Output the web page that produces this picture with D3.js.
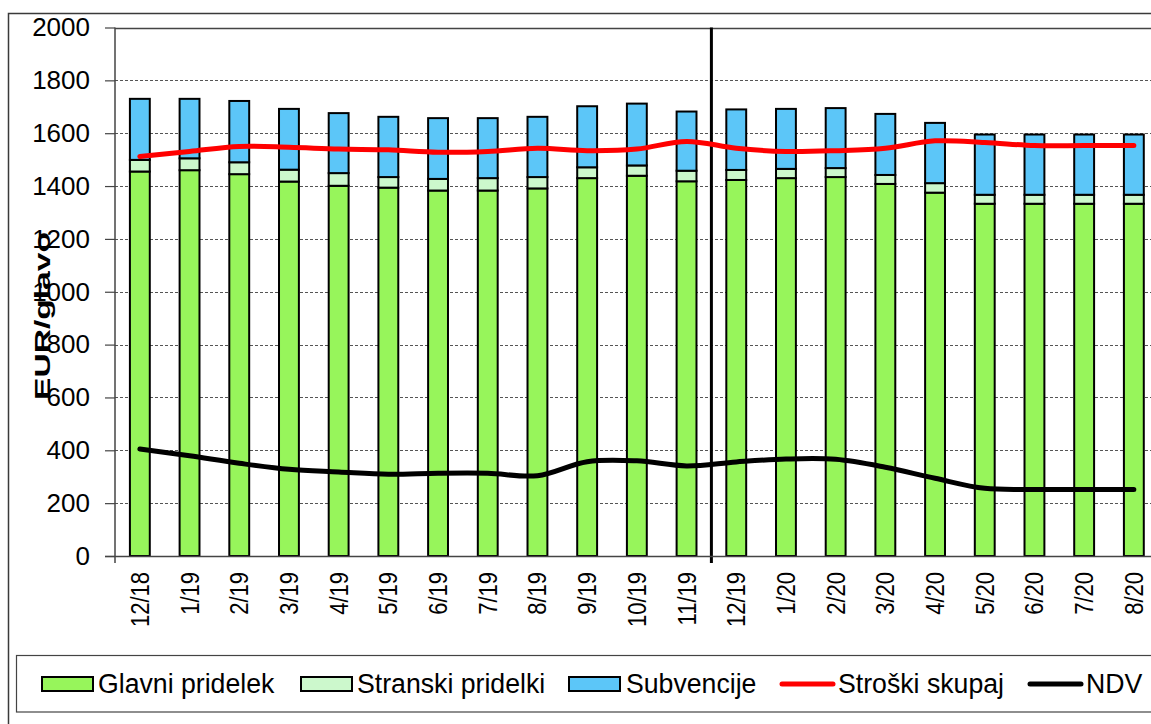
<!DOCTYPE html>
<html>
<head>
<meta charset="utf-8">
<script src="https://cdn.jsdelivr.net/npm/d3@7"></script>
<style>
    body { margin: 0; background: #fff; }
    svg text { font-family: "Liberation Sans", Arial, sans-serif; fill: #000; }
</style>
</head>
<body>
<div id="chart"></div>
<script>
"use strict";
// months on the x axis
const months = ["12/18", "1/19", "2/19", "3/19", "4/19", "5/19", "6/19", "7/19", "8/19", "9/19",
    "10/19", "11/19", "12/19", "1/20", "2/20", "3/20", "4/20", "5/20", "6/20", "7/20", "8/20"];
// stacked bars (EUR/glavo)
const glavni = [1455, 1460, 1445, 1417, 1401, 1394, 1383, 1383, 1391, 1430, 1439, 1418,
    1423, 1430, 1434, 1408, 1375, 1333, 1333, 1333, 1333];
const stranski = [44, 45, 45, 45, 48, 40, 44, 47, 43, 41, 39, 40,
    38, 35, 34, 34, 36, 34, 34, 34, 34];
const subvencije = [231, 225, 232, 230, 227, 228, 230, 227, 228, 231, 234, 224,
    229, 227, 227, 231, 228, 228, 228, 228, 228];
// lines
const stroski = [1512, 1531, 1550, 1547, 1540, 1537, 1528, 1531, 1543, 1534, 1540, 1569,
    1543, 1531, 1534, 1543, 1571, 1565, 1553, 1553, 1553];
const ndv = [405, 379, 351, 328, 318, 309, 313, 313, 304, 357, 360, 341,
    356, 367, 366, 336, 294, 256, 252, 252, 252];
const yTicks = [0, 200, 400, 600, 800, 1000, 1200, 1400, 1600, 1800, 2000];

const barSeries = [
    { name: "Glavni pridelek", values: glavni, color: "#97F55B" },
    { name: "Stranski pridelki", values: stranski, color: "#CCF8CC" },
    { name: "Subvencije", values: subvencije, color: "#5CC6F8" }
];
const lineSeries = [
    { name: "Stroški skupaj", values: stroski, color: "#FF0000" },
    { name: "NDV", values: ndv, color: "#000000" }
];

var width = 1151,
    height = 724;
var plot = { left: 115, top: 27.5, bottom: 556 };
var step = 49.7;

var svg = d3.select("#chart")
    .append("svg")
    .attr("width", width)
    .attr("height", height);

var xScale = d3.scaleBand()
    .domain(months)
    .range([plot.left, plot.left + step * months.length])
    .paddingInner(0.6)
    .paddingOuter(0.3);

var yScale = d3.scaleLinear()
    .domain([0, 2000])
    .range([plot.bottom, plot.top]);

// outer frame (cut off right and bottom like the original)
svg.append("rect")
    .attr("x", 8.5).attr("y", 13.5)
    .attr("width", 1300).attr("height", 900)
    .attr("fill", "none")
    .attr("stroke", "#3a3a3a")
    .attr("stroke-width", 1.5);

drawGrid();
drawBars();
drawSeparator();
drawLines();
drawAxes();
drawLegend();

function drawGrid() {
    svg.append("g")
        .attr("class", "grid")
        .selectAll("line")
        .data(yTicks.filter(d => d > 0))
        .join("line")
        .attr("x1", plot.left)
        .attr("x2", width + 20)
        .attr("y1", d => Math.round(yScale(d)) + 0.5)
        .attr("y2", d => Math.round(yScale(d)) + 0.5)
        .attr("stroke", d => d === 2000 ? "#444" : "#555")
        .attr("stroke-width", d => d === 2000 ? 1.5 : 1)
        .attr("stroke-dasharray", d => d === 2000 ? null : "3,2");
}

function drawBars() {
    const stacked = months.map(function (m, i) {
        let y0 = 0;
        return barSeries.map(function (s) {
            const seg = { month: m, y0: y0, y1: y0 + s.values[i], color: s.color };
            y0 += s.values[i];
            return seg;
        });
    });
    svg.append("g")
        .attr("class", "bars")
        .selectAll("g")
        .data(stacked)
        .join("g")
        .selectAll("rect")
        .data(d => d)
        .join("rect")
        .attr("x", d => xScale(d.month))
        .attr("width", xScale.bandwidth())
        .attr("y", d => yScale(d.y1))
        .attr("height", d => yScale(d.y0) - yScale(d.y1))
        .attr("fill", d => d.color)
        .attr("stroke", "#000")
        .attr("stroke-width", 2);
}

function drawSeparator() {
    const sx = plot.left + step * 12;
    svg.append("line")
        .attr("x1", sx).attr("x2", sx)
        .attr("y1", plot.top).attr("y2", plot.bottom + 7)
        .attr("stroke", "#000")
        .attr("stroke-width", 3);
}

function drawLines() {
    const line = d3.line()
        .x((d, i) => xScale(months[i]) + xScale.bandwidth() / 2)
        .y(d => yScale(d))
        .curve(d3.curveCatmullRom.alpha(0.5));
    svg.append("g")
        .attr("class", "lines")
        .selectAll("path")
        .data(lineSeries)
        .join("path")
        .attr("d", d => line(d.values))
        .attr("fill", "none")
        .attr("stroke", d => d.color)
        .attr("stroke-width", 5)
        .attr("stroke-linecap", "round")
        .attr("stroke-linejoin", "round");
}

function drawAxes() {
    // y axis
    const yAxis = svg.append("g")
        .attr("class", "axis axis--y")
        .attr("transform", `translate(${plot.left},0)`)
        .call(d3.axisLeft(yScale).tickValues(yTicks).tickFormat(d3.format("d"))
            .tickSize(10).tickPadding(15));
    yAxis.select(".domain").remove();
    yAxis.selectAll(".tick line").attr("stroke", "#444").attr("stroke-width", 1.2);
    yAxis.selectAll(".tick text")
        .attr("font-size", 26)
        .attr("font-family", "Liberation Sans, Arial, sans-serif")
        .attr("fill", "#000");
    svg.append("line")
        .attr("x1", plot.left).attr("x2", plot.left)
        .attr("y1", plot.top).attr("y2", plot.bottom + 7)
        .attr("stroke", "#444").attr("stroke-width", 1.5);

    // x axis
    svg.append("line")
        .attr("x1", plot.left - 10).attr("x2", width + 20)
        .attr("y1", plot.bottom + 0.5).attr("y2", plot.bottom + 0.5)
        .attr("stroke", "#444").attr("stroke-width", 1.5);

    svg.append("g")
        .attr("class", "axis axis--x")
        .selectAll("text")
        .data(months)
        .join("text")
        .attr("transform", d =>
            `translate(${xScale(d) + xScale.bandwidth() / 2 + 9},${plot.bottom + 16}) rotate(-90) scale(0.88,1)`)
        .attr("text-anchor", "end")
        .attr("font-size", 25)
        .text(d => d);

    // axis title, stretched along its length like the original
    svg.append("text")
        .attr("transform", "translate(50,316) rotate(-90)")
        .attr("text-anchor", "middle")
        .attr("font-size", 22)
        .attr("font-weight", "bold")
        .attr("textLength", 168)
        .attr("lengthAdjust", "spacingAndGlyphs")
        .text("EUR/glavo");
}

function drawLegend() {
    const legend = svg.append("g").attr("class", "legend");
    legend.append("rect")
        .attr("x", 16.5).attr("y", 655.5)
        .attr("width", 1300).attr("height", 56.5)
        .attr("fill", "#fff")
        .attr("stroke", "#444")
        .attr("stroke-width", 1.2);

    const items = [
        { s: barSeries[0], kind: "box", x: 42, tx: 98 },
        { s: barSeries[1], kind: "box", x: 301, tx: 357 },
        { s: barSeries[2], kind: "box", x: 569, tx: 626 },
        { s: lineSeries[0], kind: "line", x: 782, tx: 838 },
        { s: lineSeries[1], kind: "line", x: 1030, tx: 1086 }
    ];
    const g = legend.selectAll("g.item")
        .data(items)
        .join("g")
        .attr("class", "item");
    g.filter(d => d.kind === "box")
        .append("rect")
        .attr("x", d => d.x).attr("y", 677)
        .attr("width", 51).attr("height", 14)
        .attr("fill", d => d.s.color)
        .attr("stroke", "#000")
        .attr("stroke-width", 2);
    g.filter(d => d.kind === "line")
        .append("line")
        .attr("x1", d => d.x).attr("x2", d => d.x + 51)
        .attr("y1", 684).attr("y2", 684)
        .attr("stroke", d => d.s.color)
        .attr("stroke-width", 5)
        .attr("stroke-linecap", "round");
    g.append("text")
        .attr("transform", d => `translate(${d.tx},693) scale(0.97,1)`)
        .attr("font-size", 27.5)
        .text(d => d.s.name);
}
</script>
</body>
</html>
